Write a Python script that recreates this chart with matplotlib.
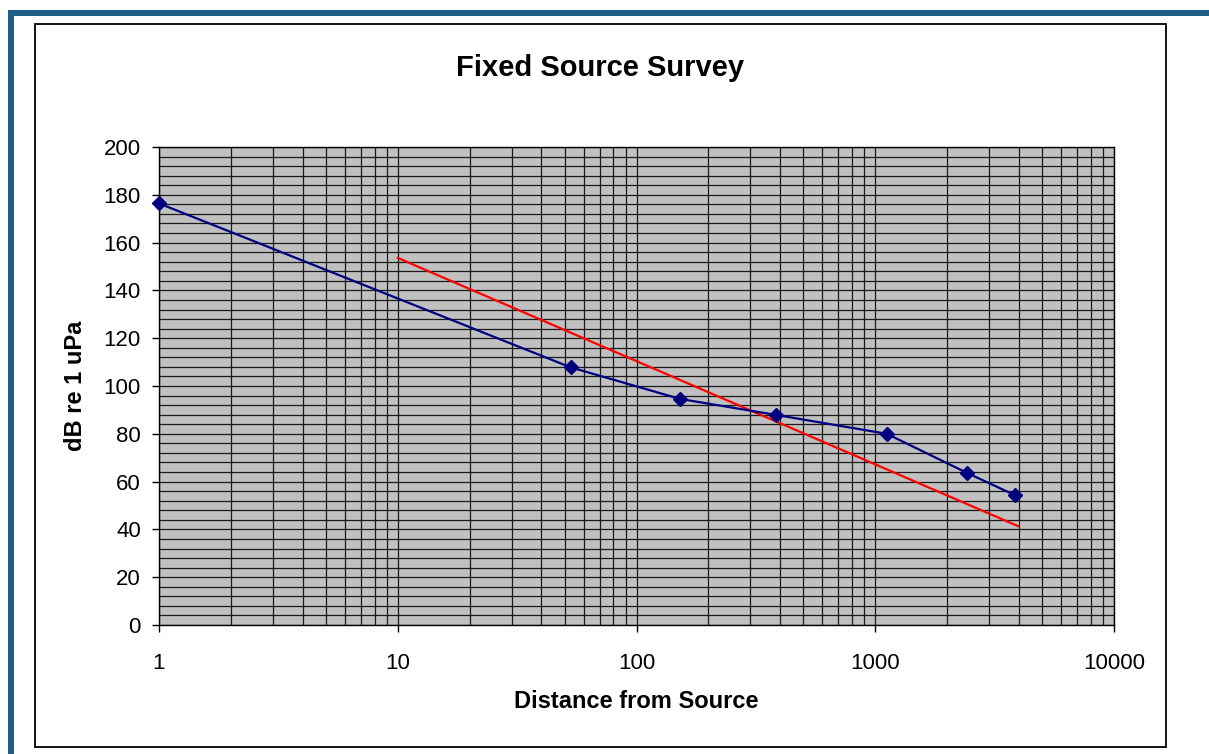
import matplotlib.pyplot as plt
import numpy as np
from matplotlib.patches import Rectangle
from matplotlib.ticker import LogLocator, FixedLocator, NullFormatter

plt.rcParams['font.family'] = ['Liberation Sans', 'DejaVu Sans']

# measured levels
dist = [1, 53, 152, 384, 1117, 2416, 3849]
level = [176.4, 107.8, 94.6, 87.9, 80.0, 63.7, 54.3]

# reference spreading line
ref_dist = [10, 3960]
ref_level = [153.6, 41.4]

xticks = [1, 10, 100, 1000, 10000]
xticklabels = ["1", "10", "100", "1000", "10000"]
yticks = list(range(0, 201, 20))

W, H = 1209, 754
fig = plt.figure(figsize=(W / 100, H / 100), dpi=100)
fig.patch.set_facecolor("white")

# page decoration: blue bars at top/left and the chart frame
teal = "#1F5F87"
fig.add_artist(Rectangle((8 / W, 0), 6 / W, 1 - 10 / H, transform=fig.transFigure,
                         facecolor=teal, edgecolor="none"))
fig.add_artist(Rectangle((8 / W, 1 - 16 / H), 1 - 8 / W, 6 / H, transform=fig.transFigure,
                         facecolor=teal, edgecolor="none"))
fig.add_artist(Rectangle((34.5 / W, 1 - 746.5 / H), (1166 - 34.5) / W, (746.5 - 24) / H,
                         transform=fig.transFigure, facecolor="none",
                         edgecolor="black", linewidth=1.3))

ax = fig.add_axes([159 / W, 1 - 625 / H, (1114 - 159) / W, (625 - 147) / H])
ax.set_facecolor("#C0C0C0")
ax.set_xscale("log")
ax.set_xlim(1, 10000)
ax.set_ylim(0, 200)

# grid
ax.xaxis.set_major_locator(FixedLocator(xticks))
ax.xaxis.set_minor_locator(LogLocator(base=10, subs=np.arange(2, 10)))
ax.xaxis.set_minor_formatter(NullFormatter())
ax.set_xticklabels(xticklabels)
ax.yaxis.set_major_locator(FixedLocator(yticks))
ax.yaxis.set_minor_locator(FixedLocator(list(range(0, 201, 4))))
ax.grid(True, which="both", axis="both", color="#1a1a1a", linewidth=0.9)
ax.set_axisbelow(True)

ax.tick_params(axis="x", which="major", direction="out", length=5, width=1,
               labelsize=16, pad=15)
ax.tick_params(axis="y", which="major", direction="out", length=5, width=1,
               labelsize=16, pad=8)
ax.tick_params(which="minor", length=0)
for s in ax.spines.values():
    s.set_color("black")
    s.set_linewidth(1)

ax.plot(ref_dist, ref_level, color="#FF0000", linewidth=1.6, zorder=3)
ax.plot(dist, level, color="#000080", linewidth=1.6, marker="D",
        markersize=7.5, zorder=4, clip_on=False)

fig.text(600 / W, 1 - 68 / H, "Fixed Source Survey", ha="center", va="center",
         fontsize=21, fontweight="bold")
fig.text(636 / W, 1 - 702 / H, "Distance from Source", ha="center", va="center",
         fontsize=17, fontweight="bold")
fig.text(75 / W, 1 - 386 / H, "dB re 1 uPa", ha="center", va="center",
         fontsize=17, fontweight="bold", rotation=90)

fig.savefig("out.png", dpi=100)
